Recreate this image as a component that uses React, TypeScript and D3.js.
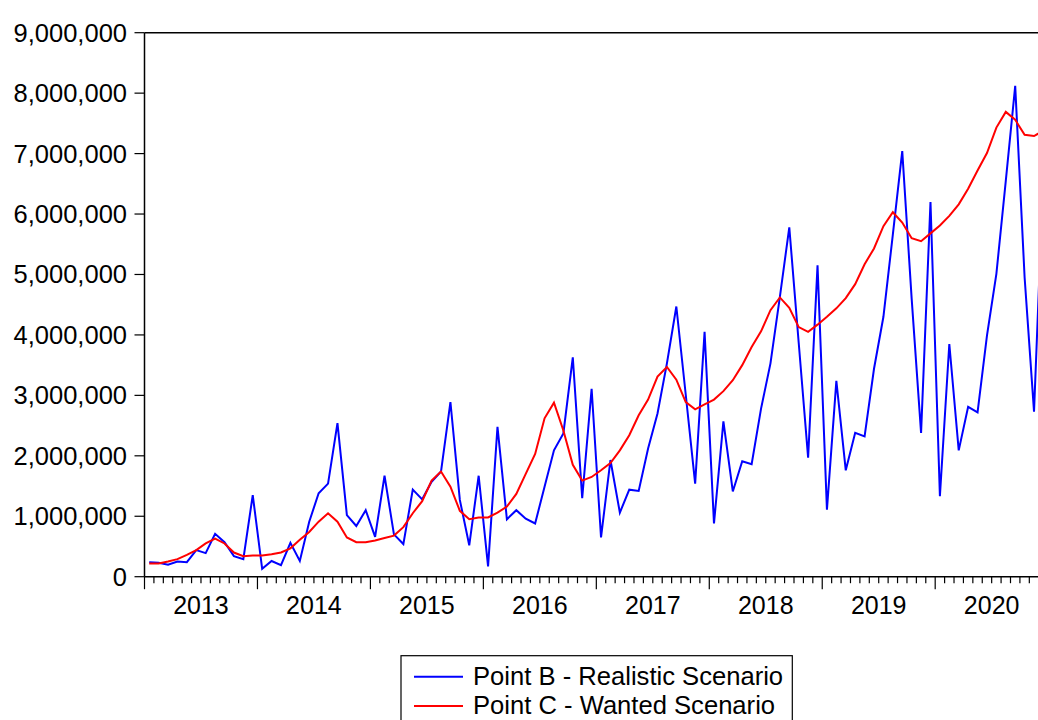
import React from "react";
import * as d3 from "d3";

const years = ["2013", "2014", "2015", "2016", "2017", "2018", "2019", "2020"];
const yTicks = [0, 1000000, 2000000, 3000000, 4000000, 5000000, 6000000, 7000000, 8000000, 9000000];

// Monthly values, Jan 2013 .. Dec 2020 (millions)
const realistic = [
  0.24, 0.23, 0.20, 0.25, 0.24, 0.44, 0.39, 0.71, 0.57, 0.34, 0.29, 1.35,
  0.13, 0.26, 0.19, 0.56, 0.26, 0.91, 1.38, 1.54, 2.54, 1.02, 0.84, 1.10,
  0.66, 1.67, 0.70, 0.54, 1.44, 1.28, 1.57, 1.74, 2.89, 1.27, 0.52, 1.67,
  0.17, 2.48, 0.95, 1.10, 0.96, 0.88, 1.49, 2.09, 2.37, 3.63, 1.30, 3.11,
  0.65, 1.93, 1.06, 1.44, 1.42, 2.12, 2.70, 3.53, 4.47, 3.01, 1.54, 4.05,
  0.88, 2.57, 1.41, 1.91, 1.86, 2.78, 3.53, 4.63, 5.78, 3.87, 1.97, 5.15,
  1.11, 3.24, 1.76, 2.38, 2.32, 3.44, 4.30, 5.66, 7.04, 4.60, 2.38, 6.20,
  1.33, 3.85, 2.09, 2.81, 2.72, 3.99, 5.01, 6.55, 8.12, 4.95, 2.73, 6.70,
];
const wanted = [
  0.22, 0.22, 0.25, 0.29, 0.36, 0.44, 0.55, 0.63, 0.55, 0.40, 0.34, 0.35,
  0.35, 0.37, 0.40, 0.47, 0.61, 0.74, 0.91, 1.05, 0.91, 0.65, 0.57, 0.57,
  0.60, 0.64, 0.68, 0.82, 1.05, 1.25, 1.59, 1.74, 1.49, 1.09, 0.95, 0.98,
  0.98, 1.06, 1.16, 1.37, 1.70, 2.03, 2.62, 2.88, 2.42, 1.85, 1.59, 1.65,
  1.76, 1.88, 2.09, 2.34, 2.67, 2.93, 3.31, 3.47, 3.26, 2.89, 2.77, 2.85,
  2.93, 3.07, 3.25, 3.50, 3.80, 4.06, 4.41, 4.62, 4.45, 4.13, 4.05, 4.17,
  4.30, 4.44, 4.61, 4.84, 5.17, 5.43, 5.80, 6.03, 5.86, 5.60, 5.55, 5.68,
  5.81, 5.97, 6.16, 6.42, 6.72, 7.01, 7.43, 7.69, 7.56, 7.31, 7.29, 7.38,
];

const seriesNames = ["Point B - Realistic Scenario", "Point C - Wanted Scenario"];
const seriesColors = ["#0000FF", "#FF0000"];

const W = 1038;
const H = 720;
const left = 144.5;
const monthW = 9.413;
const nMonths = years.length * 12;
const FONT = "'Liberation Sans', Arial, sans-serif";

export default function App() {
  const x = d3.scaleLinear().domain([0, nMonths]).range([left, left + nMonths * monthW]);
  const y = d3.scaleLinear().domain([0, 9000000]).range([576.7, 32.7]);
  const fmt = d3.format(",");
  const line = d3
    .line<number>()
    .x((_, i) => x(i + 0.5))
    .y((d) => y(d * 1e6));

  const months = d3.range(nMonths + 1);
  const base = y(0);

  return (
    <svg
      width={W}
      height={H}
      style={{ position: "absolute", left: 0, top: 0, background: "#fff" }}
      fontFamily={FONT}
    >
      <rect x={0} y={0} width={W} height={H} fill="#fff" />
      {/* series */}
      <path d={line(realistic) || ""} fill="none" stroke={seriesColors[0]} strokeWidth={2} strokeLinejoin="miter" />
      <path d={line(wanted) || ""} fill="none" stroke={seriesColors[1]} strokeWidth={2} strokeLinejoin="miter" />

      {/* frame */}
      <line x1={left} x2={W + 20} y1={y(9000000)} y2={y(9000000)} stroke="#000" strokeWidth={1.5} />
      <line x1={left} x2={W + 20} y1={base} y2={base} stroke="#000" strokeWidth={1.5} />
      <line x1={left} x2={left} y1={y(9000000)} y2={base} stroke="#000" strokeWidth={1.5} />

      {/* y ticks */}
      {yTicks.map((t) => (
        <g key={t}>
          <line x1={left - 10} x2={left} y1={y(t)} y2={y(t)} stroke="#000" strokeWidth={1.2} />
          <text x={127} y={y(t) + 9} textAnchor="end" fontSize={25.5} fill="#000">
            {fmt(t)}
          </text>
        </g>
      ))}

      {/* x ticks */}
      {months.map((m) => (
        <line
          key={m}
          x1={x(m)}
          x2={x(m)}
          y1={base}
          y2={m % 12 === 0 ? base + 12.5 : base + 6.5}
          stroke="#000"
          strokeWidth={1.2}
        />
      ))}
      {years.map((yr, k) => (
        <text key={yr} x={x(k * 12 + 6)} y={614} textAnchor="middle" fontSize={25} fill="#000">
          {yr}
        </text>
      ))}

      {/* legend */}
      <rect x={401} y={655.7} width={391.3} height={80} fill="#fff" stroke="#000" strokeWidth={1.2} />
      {seriesNames.map((name, i) => (
        <g key={name}>
          <line x1={414} x2={463} y1={676.7 + i * 29.3} y2={676.7 + i * 29.3} stroke={seriesColors[i]} strokeWidth={2} />
          <text x={473} y={684.5 + i * 29.3} fontSize={25.6} fill="#000">
            {name}
          </text>
        </g>
      ))}
    </svg>
  );
}
